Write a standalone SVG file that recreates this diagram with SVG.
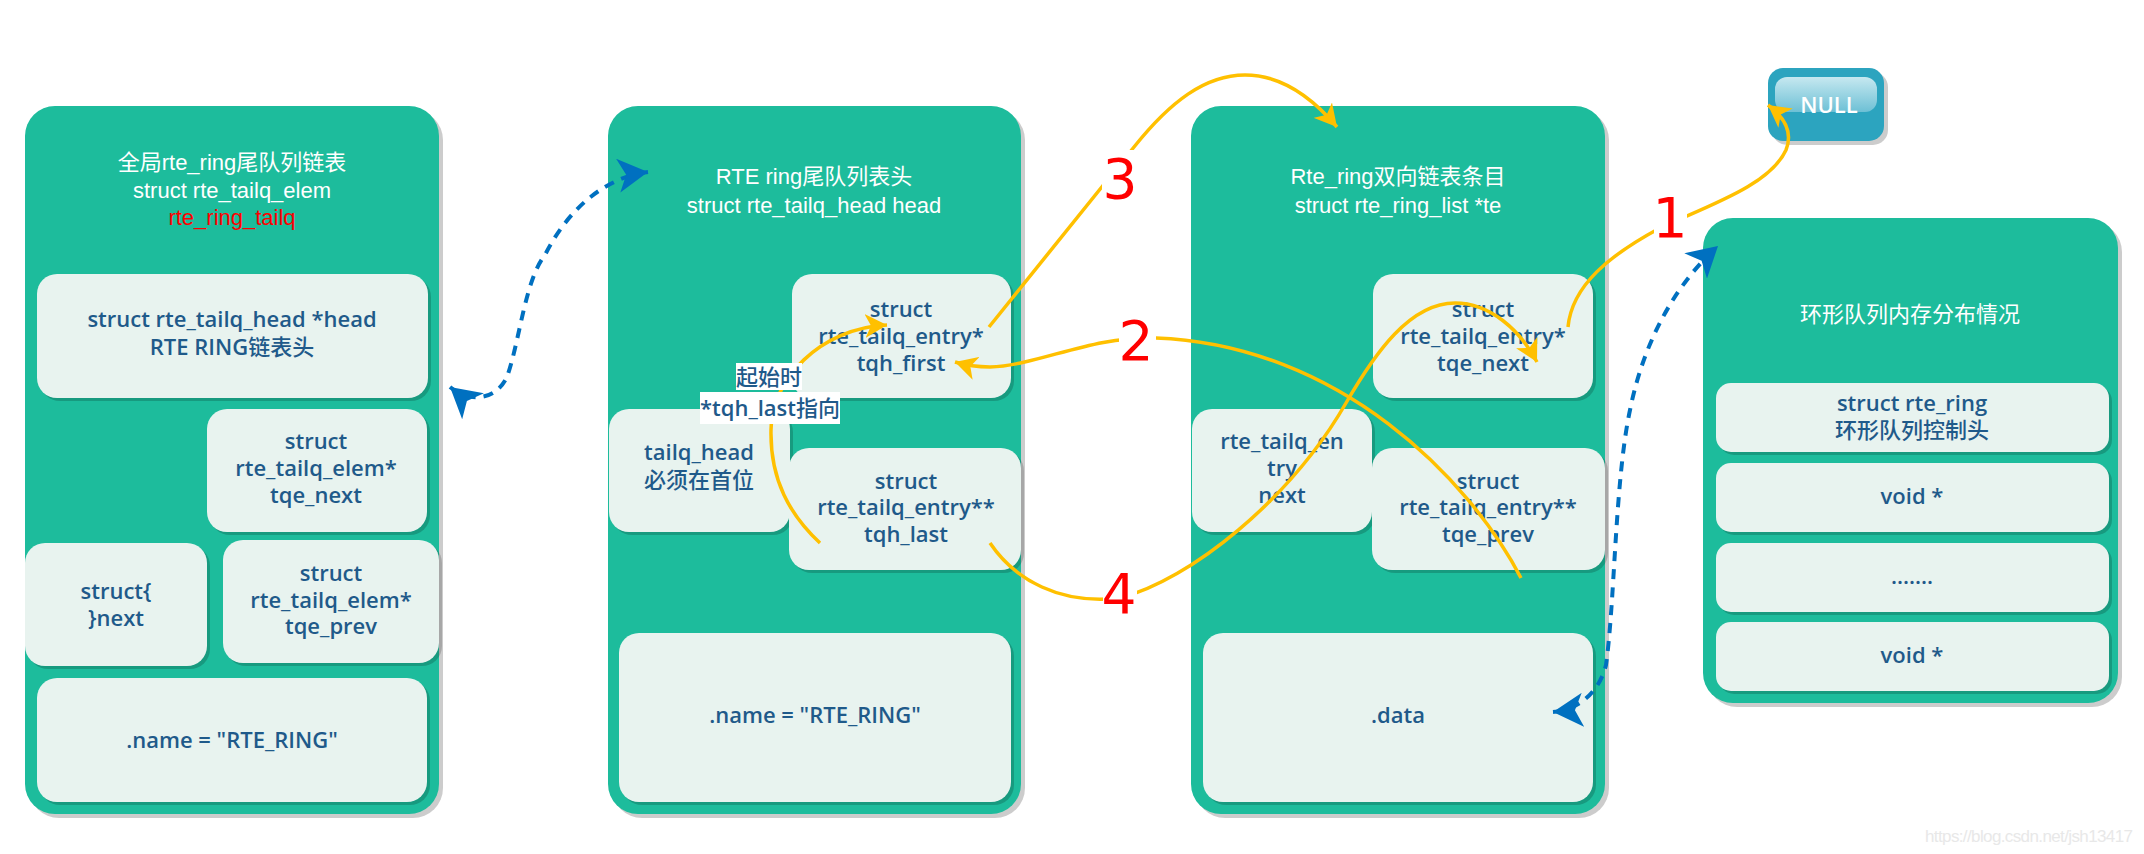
<svg xmlns="http://www.w3.org/2000/svg" width="2144" height="854" viewBox="0 0 2144 854">
<defs>
<style>
.ct{fill:#1DBC9C}
.shc{fill:#000;opacity:.2}
.sh{fill:#000;opacity:.18}
.bx{fill:#E8F3EF}
.ttl{font-family:"Liberation Sans","Noto Sans CJK SC",sans-serif;font-size:22px;fill:#fff;text-anchor:middle}
.tx{font-family:"Open Sans","Noto Sans CJK SC",sans-serif;font-size:22px;font-weight:600;fill:#1F5A8A;text-anchor:middle}
.cj{font-weight:500}
.num{font-family:"DejaVu Sans",sans-serif;font-size:55px;fill:#FF0000;text-anchor:middle}
.y{fill:none;stroke:#FFC000;stroke-width:3.5}
.b{fill:none;stroke:#0070C0;stroke-width:4;stroke-dasharray:10 8}
.lb{fill:#fff}
</style>
<marker id="ay" markerUnits="userSpaceOnUse" viewBox="0 0 24 24" markerWidth="24" markerHeight="24" refX="22" refY="12" orient="auto"><path d="M0,0 L22,12 L0,24 L6,12 Z" fill="#FFC000"/></marker>
<marker id="ab" markerUnits="userSpaceOnUse" viewBox="0 0 32 34" markerWidth="32" markerHeight="34" refX="30" refY="17" orient="auto-start-reverse"><path d="M0,0 L30,17 L0,34 L8,17 Z" fill="#0070C0"/></marker>
<linearGradient id="gl" x1="0" y1="0" x2="0" y2="1"><stop offset="0" stop-color="#C6E8F0"/><stop offset="1" stop-color="#6DC0D5"/></linearGradient>
</defs>
<rect width="2144" height="854" fill="#fff"/>

<g id="c1">
<rect class="shc" x="29" y="110" width="414" height="708" rx="30"/>
<rect class="ct" x="25" y="106" width="414" height="708" rx="30"/>
<text class="ttl" x="232" y="170">全局rte_ring尾队列链表</text>
<text class="ttl" x="232" y="198">struct rte_tailq_elem</text>
<text class="ttl" x="232" y="225" style="fill:#FF0000">rte_ring_tailq</text>
<g id="c1-head"><rect class="sh" x="40" y="277" width="391" height="124" rx="20"/><rect class="bx" x="37" y="274" width="391" height="124" rx="20"/>
<text class="tx" x="232" y="327">struct rte_tailq_head *head</text><text class="tx" x="232" y="355">RTE RING<tspan class="cj">链表头</tspan></text></g>
<g id="c1-next"><rect class="sh" x="210" y="412" width="220" height="123" rx="20"/><rect class="bx" x="207" y="409" width="220" height="123" rx="20"/>
<text class="tx" x="316" y="449">struct</text><text class="tx" x="316" y="476">rte_tailq_elem*</text><text class="tx" x="316" y="503">tqe_next</text></g>
<g id="c1-struct"><rect class="sh" x="28" y="546" width="182" height="123" rx="20"/><rect class="bx" x="25" y="543" width="182" height="123" rx="20"/>
<text class="tx" x="116" y="599">struct{</text><text class="tx" x="116" y="626">}next</text></g>
<g id="c1-prev"><rect class="sh" x="226" y="543" width="216" height="123" rx="20"/><rect class="bx" x="223" y="540" width="216" height="123" rx="20"/>
<text class="tx" x="331" y="581">struct</text><text class="tx" x="331" y="608">rte_tailq_elem*</text><text class="tx" x="331" y="634">tqe_prev</text></g>
<g id="c1-name"><rect class="sh" x="40" y="681" width="390" height="124" rx="20"/><rect class="bx" x="37" y="678" width="390" height="124" rx="20"/>
<text class="tx" x="232" y="748">.name = "RTE_RING"</text></g>
</g>

<g id="c2">
<rect class="shc" x="612" y="110" width="413" height="708" rx="30"/>
<rect class="ct" x="608" y="106" width="413" height="708" rx="30"/>
<text class="ttl" x="814" y="184">RTE ring尾队列表头</text>
<text class="ttl" x="814" y="213">struct rte_tailq_head head</text>
<g id="c2-first"><rect class="sh" x="795" y="277" width="219" height="124" rx="20"/><rect class="bx" x="792" y="274" width="219" height="124" rx="20"/>
<text class="tx" x="901" y="317">struct</text><text class="tx" x="901" y="344">rte_tailq_entry*</text><text class="tx" x="901" y="371">tqh_first</text></g>
<g id="c2-head"><rect class="sh" x="612" y="412" width="181" height="123" rx="20"/><rect class="bx" x="609" y="409" width="181" height="123" rx="20"/>
<text class="tx" x="699" y="460">tailq_head</text><text class="tx cj" x="699" y="488">必须在首位</text></g>
<g id="c2-last"><rect class="sh" x="792" y="451" width="232" height="122" rx="20"/><rect class="bx" x="789" y="448" width="232" height="122" rx="20"/>
<text class="tx" x="906" y="489">struct</text><text class="tx" x="906" y="515">rte_tailq_entry**</text><text class="tx" x="906" y="542">tqh_last</text></g>
<g id="c2-name"><rect class="sh" x="622" y="636" width="392" height="169" rx="20"/><rect class="bx" x="619" y="633" width="392" height="169" rx="20"/>
<text class="tx" x="815" y="723">.name = "RTE_RING"</text></g>
</g>

<g id="c3">
<rect class="shc" x="1195" y="110" width="414" height="708" rx="30"/>
<rect class="ct" x="1191" y="106" width="414" height="708" rx="30"/>
<text class="ttl" x="1398" y="184">Rte_ring双向链表条目</text>
<text class="ttl" x="1398" y="213">struct rte_ring_list *te</text>
<g id="c3-next"><rect class="sh" x="1376" y="277" width="220" height="124" rx="20"/><rect class="bx" x="1373" y="274" width="220" height="124" rx="20"/>
<text class="tx" x="1483" y="317">struct</text><text class="tx" x="1483" y="344">rte_tailq_entry*</text><text class="tx" x="1483" y="371">tqe_next</text></g>
<g id="c3-entry"><rect class="sh" x="1195" y="412" width="180" height="123" rx="20"/><rect class="bx" x="1192" y="409" width="180" height="123" rx="20"/>
<text class="tx" x="1282" y="449">rte_tailq_en</text><text class="tx" x="1282" y="476">try</text><text class="tx" x="1282" y="503">next</text></g>
<g id="c3-prev"><rect class="sh" x="1375" y="451" width="233" height="122" rx="20"/><rect class="bx" x="1372" y="448" width="233" height="122" rx="20"/>
<text class="tx" x="1488" y="489">struct</text><text class="tx" x="1488" y="515">rte_tailq_entry**</text><text class="tx" x="1488" y="542">tqe_prev</text></g>
<g id="c3-data"><rect class="sh" x="1206" y="636" width="390" height="169" rx="20"/><rect class="bx" x="1203" y="633" width="390" height="169" rx="20"/>
<text class="tx" x="1398" y="723">.data</text></g>
</g>

<g id="c4">
<rect class="shc" x="1707" y="222" width="415" height="485" rx="30"/>
<rect class="ct" x="1703" y="218" width="415" height="485" rx="30"/>
<text class="ttl" x="1910" y="322">环形队列内存分布情况</text>
<g id="c4-ring"><rect class="sh" x="1719" y="386" width="393" height="69" rx="15"/><rect class="bx" x="1716" y="383" width="393" height="69" rx="15"/>
<text class="tx" x="1912" y="411">struct rte_ring</text><text class="tx cj" x="1912" y="438">环形队列控制头</text></g>
<g id="c4-v1"><rect class="sh" x="1719" y="466" width="393" height="69" rx="15"/><rect class="bx" x="1716" y="463" width="393" height="69" rx="15"/>
<text class="tx" x="1912" y="504">void *</text></g>
<g id="c4-dots"><rect class="sh" x="1719" y="546" width="393" height="69" rx="15"/><rect class="bx" x="1716" y="543" width="393" height="69" rx="15"/>
<text class="tx" x="1912" y="584">.......</text></g>
<g id="c4-v2"><rect class="sh" x="1719" y="625" width="393" height="69" rx="15"/><rect class="bx" x="1716" y="622" width="393" height="69" rx="15"/>
<text class="tx" x="1912" y="663">void *</text></g>
</g>

<g id="null">
<rect x="1772" y="72" width="116" height="73" rx="15" fill="#000" opacity=".2"/>
<rect x="1768" y="68" width="116" height="73" rx="15" fill="#2CA4BF"/>
<rect x="1775" y="77" width="102" height="35" rx="12" fill="url(#gl)"/>
<text x="1829" y="113" style="font-family:'Open Sans',sans-serif;font-size:22px;font-weight:600;fill:#fff;text-anchor:middle">NULL</text>
</g>

<g id="connectors">
<path class="b" d="M450,387 C468,402 495,402 507,377 C520,340 525,280 545,255 C565,215 600,178 648,172" marker-start="url(#ab)" marker-end="url(#ab)"/>
<path class="b" d="M1553,712 C1580,710 1600,690 1606,665 C1615,600 1615,480 1630,410 C1645,335 1680,280 1718,246" marker-start="url(#ab)" marker-end="url(#ab)"/>
<path class="y" d="M1568,327 C1572,285 1610,255 1660,228 C1710,205 1770,185 1786,150 C1792,135 1788,120 1768,105" marker-end="url(#ay)"/>
<path class="y" d="M1521,578 C1470,480 1340,345 1156,338 C1090,336 1040,365 990,367 C978,367 965,365 955,362" marker-end="url(#ay)"/>
<path class="y" d="M989,327 L1134,147 C1170,102 1205,75 1245,75 C1280,75 1310,95 1337,127" marker-end="url(#ay)"/>
<path class="y" d="M990,543 C1015,580 1060,605 1120,598 C1190,580 1290,500 1346,403 C1375,353 1410,303 1455,303 C1490,303 1520,330 1537,362" marker-end="url(#ay)"/>
<path class="y" d="M820,543 C790,515 770,480 771,430 C771,380 820,328 887,325" marker-end="url(#ay)"/>
<g id="labels">
<rect class="lb" x="736" y="363" width="66" height="27"/>
<rect class="lb" x="700" y="392" width="140" height="32"/>
<text class="tx cj" x="769" y="385">起始时</text>
<text class="tx" x="770" y="416">*tqh_last<tspan class="cj">指向</tspan></text>
<rect class="lb" x="1102" y="150" width="34" height="52"/>
<text class="num" x="1120" y="198">3</text>
<rect class="lb" x="1119" y="318" width="37" height="46"/>
<text class="num" x="1136" y="360">2</text>
<rect class="lb" x="1103" y="572" width="34" height="46"/>
<text class="num" x="1119" y="613">4</text>
<rect class="lb" x="1654" y="193" width="33" height="48"/>
<text class="num" x="1670" y="237">1</text>
</g>
</g>
<text x="2133" y="842" textLength="208" style="font-family:'Liberation Sans',sans-serif;font-size:17px;fill:#E8E8E8;text-anchor:end">https://blog.csdn.net/jsh13417</text>
</svg>
